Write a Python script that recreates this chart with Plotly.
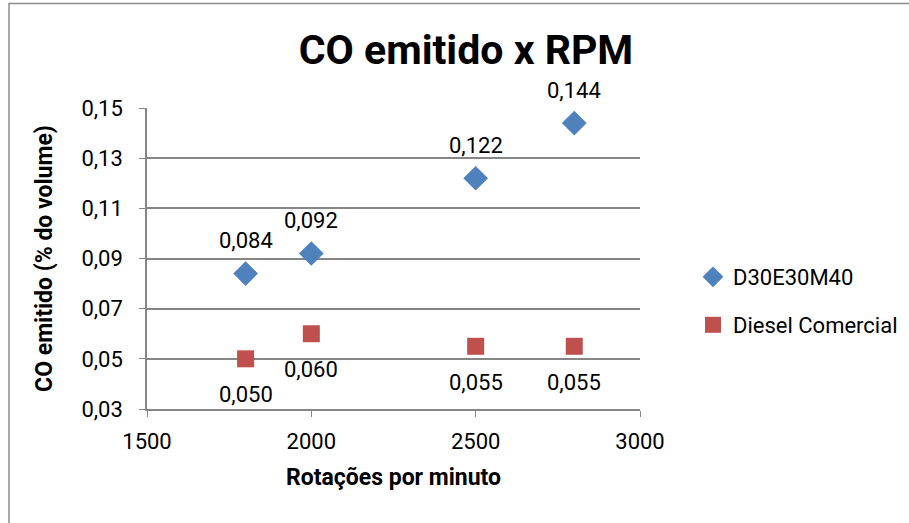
import plotly.graph_objects as go

rpm = [1800, 2000, 2500, 2800]
d30 = [0.084, 0.092, 0.122, 0.144]
diesel = [0.050, 0.060, 0.055, 0.055]
series_names = ["D30E30M40", "Diesel Comercial"]
y_ticks = [0.03, 0.05, 0.07, 0.09, 0.11, 0.13, 0.15]
x_ticks = [1500, 2000, 2500, 3000]

FONT = "Roboto, Liberation Sans, sans-serif"
TFONT = "Roboto, Liberation Sans, sans-serif"
BLUE = "#4F81BD"
RED = "#C0504D"
GRID = "#868686"

def fmt(v, d):
    return f"{v:.{d}f}".replace(".", ",")

fig = go.Figure()
fig.add_trace(go.Scatter(
    x=rpm, y=d30, mode="markers", name=series_names[0],
    marker=dict(symbol="diamond", size=19, color=BLUE),
    legend="legend", cliponaxis=False))
fig.add_trace(go.Scatter(
    x=rpm, y=diesel, mode="markers", name=series_names[1],
    marker=dict(symbol="square", size=17, color=RED),
    legend="legend2", cliponaxis=False))

annotations = []
for xv, yv in zip(rpm, d30):
    annotations.append(dict(x=xv, y=yv, xref="x", yref="y", text=fmt(yv, 3),
                            showarrow=False, yshift=33,
                            font=dict(family=FONT, size=22, color="#000")))
for xv, yv in zip(rpm, diesel):
    annotations.append(dict(x=xv, y=yv, xref="x", yref="y", text=fmt(yv, 3),
                            showarrow=False, yshift=-36,
                            font=dict(family=FONT, size=22, color="#000")))

fig.update_layout(
    width=909, height=523,
    margin=dict(l=147, r=269, t=108, b=114, autoexpand=False),
    paper_bgcolor="white", plot_bgcolor="white",
    font=dict(family=FONT, color="#000"),
    title=dict(text="<b>CO emitido x RPM</b>", x=(466) / 909, xanchor="center",
               y=1 - 50 / 523, yanchor="middle",
               font=dict(family=TFONT, size=41, color="#000")),
    annotations=annotations,
    showlegend=True,
    legend=dict(x=(693 - 147) / 493, y=1 - (277 - 108) / 301, xanchor="left", yanchor="middle",
                font=dict(family=FONT, size=22, color="#000"), bgcolor="rgba(0,0,0,0)"),
    legend2=dict(x=(693 - 147) / 493, y=1 - (325 - 108) / 301, xanchor="left", yanchor="middle",
                 font=dict(family=FONT, size=22, color="#000"), bgcolor="rgba(0,0,0,0)"),
    shapes=[dict(type="rect", xref="paper", yref="paper",
                 x0=(9 - 147) / 493, x1=(930 - 147) / 493,
                 y0=(409 - 540) / 301, y1=1 + (108 - 3.5) / 301,
                 line=dict(color="#8c8c8c", width=1.5), layer="below")],
)
fig.update_xaxes(
    range=[1500, 3000], tickvals=x_ticks, ticktext=[str(v) for v in x_ticks],
    showgrid=False, zeroline=False, showline=True, linecolor=GRID, linewidth=1.5,
    ticks="outside", ticklen=6, tickcolor=GRID, ticklabelstandoff=6,
    tickfont=dict(family=FONT, size=22, color="#000"),
    title=dict(text="<b>Rotações por minuto</b>", font=dict(family=FONT, size=23, color="#000"),
               standoff=16))
fig.update_yaxes(
    range=[0.03, 0.15], tickvals=y_ticks, ticktext=[fmt(v, 2) for v in y_ticks],
    showgrid=True, gridcolor=GRID, gridwidth=1.5, zeroline=False,
    showline=True, linecolor=GRID, linewidth=1.5,
    ticks="outside", ticklen=6, tickcolor=GRID, ticklabelstandoff=12,
    tickfont=dict(family=FONT, size=22, color="#000"),
    title=dict(text="<b>CO emitido (% do volume)</b>", font=dict(family=FONT, size=23, color="#000"),
               standoff=22))

fig.write_html("out.html")
